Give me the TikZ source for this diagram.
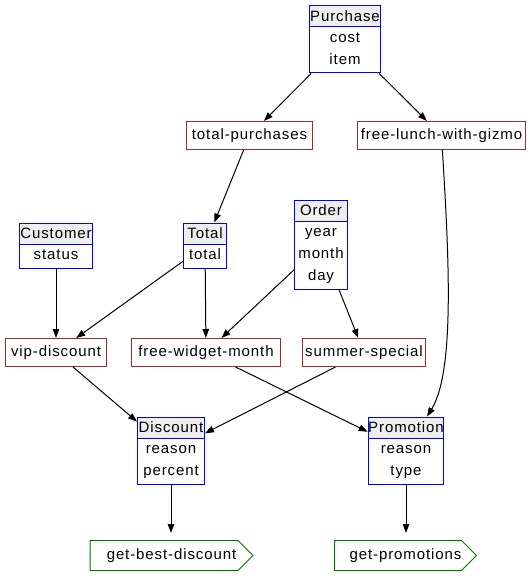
\documentclass[tikz,border=0pt]{standalone}
\usepackage{fontspec}
\setmainfont[LetterSpace=6]{Liberation Sans}
\usetikzlibrary{arrows.meta,positioning,shapes.multipart,shapes.symbols}
\definecolor{rulebrown}{HTML}{A52A2A}
\definecolor{headgray}{HTML}{EEEEEE}
\definecolor{querygreen}{HTML}{007A00}
\tikzset{%
	record/.style   = {draw=blue, rectangle split, rectangle split parts=2, rectangle split part fill={headgray,white}, inner sep=0pt, align=center}, % record
	rulebox/.style  = {draw=rulebrown, rectangle, inner sep=0pt, minimum height=28pt}, % rule
	query/.style    = {draw=querygreen, signal, signal from=nowhere, signal to=east, signal pointer angle=90, inner sep=0pt, minimum height=30pt}, % query
	arrow/.style    = {-{Triangle[length=9pt,width=6.5pt]}},
}
\newcommand{\headstrut}{\rule[-5pt]{0pt}{20pt}}
\newcommand{\firststrut}{\rule{0pt}{15pt}}
\newcommand{\laststrut}{\rule[-8pt]{0pt}{8pt}}

\begin{document}
\begin{tikzpicture}[x=1pt,y=-1pt,line width=1pt,font=\fontsize{15}{22}\selectfont]
	\useasboundingbox (-0.5,-0.5) rectangle (530.5,585.5);

	% records
	\node [record,minimum width=71pt,anchor=north] (pur) at (344.5,5) {\headstrut Purchase\nodepart{two}\firststrut cost\\item\laststrut};
	\node [record,minimum width=73pt,anchor=north] (cus) at (55.5,222) {\headstrut Customer\nodepart{two}\firststrut status\laststrut};
	\node [record,minimum width=43pt,anchor=north] (tot) at (204.5,222) {\headstrut Total\nodepart{two}\firststrut total\laststrut};
	\node [record,minimum width=53pt,anchor=north] (ord) at (320.5,199) {\headstrut Order\nodepart{two}\firststrut year\\month\\day\laststrut};
	\node [record,minimum width=67pt,anchor=north] (dis) at (170.5,416) {\headstrut Discount\nodepart{two}\firststrut reason\\percent\laststrut};
	\node [record,minimum width=75pt,anchor=north] (pro) at (405.5,416) {\headstrut Promotion\nodepart{two}\firststrut reason\\type\laststrut};

	% rules
	\node [rulebox,minimum width=126pt] (tp) at (249,135) {total-purchases};
	\node [rulebox,minimum width=168pt] (flg) at (441,135) {free-lunch-with-gizmo};
	\node [rulebox,minimum width=101pt] (vip) at (55.5,352) {vip-discount};
	\node [rulebox,minimum width=149pt] (fwm) at (205.5,352) {free-widget-month};
	\node [rulebox,minimum width=123pt] (ss) at (363.5,352) {summer-special};

	% queries
	\node [query,minimum width=163pt] (gbd) at (163.5,555) {\hspace*{15pt}get-best-discount};
	\node [query,minimum width=142pt] (gp) at (397.5,555) {\hspace*{15pt}get-promotions};

	\draw[arrow] (pur) -- (tp);
	\draw[arrow] (pur) -- (flg);
	\draw[arrow] (tp) -- (tot);
	\draw[arrow] (flg) .. controls (448,250) and (455,370) .. (pro);
	\draw[arrow] (cus) -- (vip);
	\draw[arrow] (tot) -- (vip);
	\draw[arrow] (tot) -- (fwm);
	\draw[arrow] (ord) -- (fwm);
	\draw[arrow] (ord) -- (ss);
	\draw[arrow] (vip) -- (dis);
	\draw[arrow] (ss) -- (dis);
	\draw[arrow] (fwm) -- (pro);
	\draw[arrow,shorten >=7pt] (dis.south) -- (dis.south |- gbd.north);
	\draw[arrow,shorten >=7pt] (pro.south) -- (pro.south |- gp.north);
\end{tikzpicture}
\end{document}
